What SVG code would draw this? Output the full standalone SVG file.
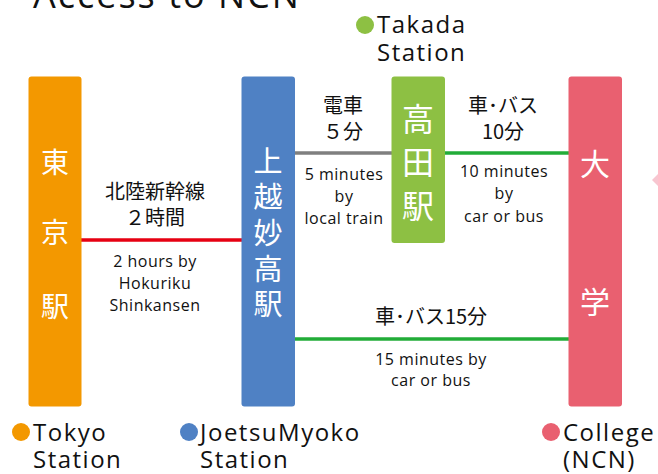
<svg xmlns="http://www.w3.org/2000/svg" width="658" height="474" viewBox="0 0 658 474">
<style>
.box{stroke:none}
.jp{font-family:"Noto Sans CJK JP","Noto Sans",sans-serif;fill:#fff;text-anchor:middle}
.lbl{font-family:"Noto Sans CJK JP","Open Sans",sans-serif;font-size:20px;fill:#111;text-anchor:middle}
.en{font-family:"Open Sans","Noto Sans",sans-serif;font-size:16px;letter-spacing:0.5px;fill:#111;text-anchor:middle}
.leg{font-family:"Open Sans","Noto Sans",sans-serif;font-size:24px;letter-spacing:1.5px;fill:#111}
.title{font-family:"Open Sans","Noto Sans",sans-serif;font-size:36px;letter-spacing:2px;fill:#111}
</style>
<rect width="658" height="474" fill="#fff"/>
<text class="title" x="33" y="8">Access to NCN</text>
<g id="connectors">
<line x1="81" y1="240" x2="242" y2="240" stroke="#E60012" stroke-width="3.5"/>
<line x1="295" y1="153" x2="392" y2="153" stroke="#7F7F7F" stroke-width="3.5"/>
<line x1="445" y1="153" x2="569" y2="153" stroke="#22AC38" stroke-width="3.5"/>
<line x1="295" y1="339" x2="569" y2="339" stroke="#22AC38" stroke-width="3.5"/>
<text class="lbl" x="155" y="199">北陸新幹線</text>
<text class="lbl" x="155" y="225">２時間</text>
<text class="en" x="155" y="267">2 hours by</text>
<text class="en" x="155" y="289">Hokuriku</text>
<text class="en" x="155" y="311">Shinkansen</text>
<text class="lbl" x="343" y="113">電車</text>
<text class="lbl" x="343" y="139">５分</text>
<text class="en" x="344" y="180">5 minutes</text>
<text class="en" x="344" y="202">by</text>
<text class="en" x="344" y="224">local train</text>
<text class="lbl" x="503" y="113">車･バス</text>
<text class="lbl" x="503" y="139">10分</text>
<text class="en" x="504" y="177">10 minutes</text>
<text class="en" x="504" y="199">by</text>
<text class="en" x="504" y="222">car or bus</text>
<text class="lbl" x="431" y="324">車･バス15分</text>
<text class="en" x="431" y="365">15 minutes by</text>
<text class="en" x="431" y="386">car or bus</text>
</g>
<g id="tokyo">
<rect class="box" x="28.5" y="76.5" width="53" height="330" rx="3" fill="#F39800"/>
<text class="jp" font-size="28" x="55" y="173">東</text>
<text class="jp" font-size="28" x="55" y="243">京</text>
<text class="jp" font-size="28" x="55" y="317">駅</text>
<circle cx="21" cy="432" r="9" fill="#F39800"/>
<text class="leg" x="33" y="441">Tokyo</text>
<text class="leg" x="33" y="468">Station</text>
</g>
<g id="joetsumyoko">
<rect class="box" x="241.5" y="76.5" width="53.5" height="330" rx="3" fill="#4F81C4"/>
<text class="jp" font-size="29" x="268" y="172">上</text>
<text class="jp" font-size="29" x="268" y="208">越</text>
<text class="jp" font-size="29" x="268" y="244">妙</text>
<text class="jp" font-size="29" x="268" y="280">高</text>
<text class="jp" font-size="29" x="268" y="315">駅</text>
<circle cx="189" cy="432" r="9" fill="#4F81C4"/>
<text class="leg" x="200" y="441">JoetsuMyoko</text>
<text class="leg" x="200" y="468">Station</text>
</g>
<g id="takada">
<rect class="box" x="391.5" y="76.5" width="53.5" height="166.5" rx="3" fill="#8DC043"/>
<text class="jp" font-size="32" x="418" y="131">高</text>
<text class="jp" font-size="32" x="418" y="174">田</text>
<text class="jp" font-size="32" x="418" y="218">駅</text>
<circle cx="365" cy="25" r="9" fill="#8DC043"/>
<text class="leg" x="377" y="33">Takada</text>
<text class="leg" x="377" y="61">Station</text>
</g>
<g id="college">
<rect class="box" x="568.5" y="76.5" width="53.5" height="330" rx="3" fill="#E96070"/>
<text class="jp" font-size="30" x="595" y="175">大</text>
<text class="jp" font-size="30" x="595" y="313">学</text>
<circle cx="551" cy="432" r="9" fill="#E96070"/>
<text class="leg" x="563" y="441">College</text>
<text class="leg" x="563" y="468">(NCN)</text>
</g>
<polygon points="658,174 652,180 658,186" fill="#F7C6D0"/>
</svg>
